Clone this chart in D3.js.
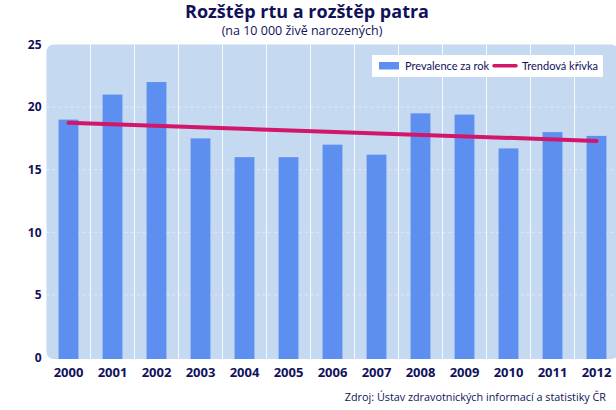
<!DOCTYPE html>
<html>
<head>
<meta charset="utf-8">
<script src="https://cdn.jsdelivr.net/npm/d3@7"></script>
<style>
  body { margin: 0; background: #fff; }
  svg { display: block; font-family: "Open Sans", "Noto Sans", sans-serif; }
</style>
</head>
<body>
<svg id="chart" width="616" height="410"></svg>
<script>
// data
const years = ["2000", "2001", "2002", "2003", "2004", "2005", "2006",
  "2007", "2008", "2009", "2010", "2011", "2012"];
const prevalence = [19.0, 21.0, 22.0, 17.5, 16.0, 16.0, 17.0,
  16.2, 19.5, 19.4, 16.7, 18.0, 17.7];
const trendYears = ["2000", "2012"];
const trendValues = [18.75, 17.3];
const yTicks = [0, 5, 10, 15, 20, 25];

const navy = "#11115a";
const barColor = "#5c8ff0";
const lineColor = "#d2166a";

const svg = d3.select("#chart");
const margin = { top: 44.5, left: 46.5, bottom: 52.5 };
const height = 410 - margin.top - margin.bottom;
const width = 13 * 44;

const x = d3.scaleBand().domain(years).range([0, width]).paddingInner(0.55).paddingOuter(0.275);
const band = d3.scaleBand().domain(years).range([0, width]);
const y = d3.scaleLinear().domain([0, 25]).range([height, 0]);

const g = svg.append("g").attr("transform", `translate(${margin.left},${margin.top})`);

// plot background
g.append("rect")
  .attr("x", 0).attr("y", 0)
  .attr("width", width).attr("height", height + 1.5)
  .attr("rx", 7)
  .attr("fill", "#c5d9f1");

// vertical separators between years
g.append("g")
  .selectAll("line")
  .data(years.slice(1))
  .join("line")
  .attr("x1", (d) => band(d)).attr("x2", (d) => band(d))
  .attr("y1", 0).attr("y2", height + 1.5)
  .attr("stroke", "#fff")
  .attr("stroke-opacity", 0.85)
  .attr("stroke-width", 1);

// horizontal dashed grid
g.append("g")
  .selectAll("line")
  .data(yTicks.filter((t) => t > 0 && t < 25))
  .join("line")
  .attr("x1", 0).attr("x2", width)
  .attr("y1", (d) => y(d)).attr("y2", (d) => y(d))
  .attr("stroke", "#fff")
  .attr("stroke-opacity", 0.45)
  .attr("stroke-dasharray", "3,3");

// bars
g.append("g")
  .selectAll("rect")
  .data(prevalence)
  .join("rect")
  .attr("x", (d, i) => x(years[i]))
  .attr("y", (d) => y(d))
  .attr("width", x.bandwidth())
  .attr("height", (d) => height + 1.5 - y(d))
  .attr("fill", barColor);

// trend line
const trend = trendYears.map((yr, i) => ({ year: yr, value: trendValues[i] }));
g.append("path")
  .datum(trend)
  .attr("fill", "none")
  .attr("stroke", lineColor)
  .attr("stroke-width", 4)
  .attr("stroke-linecap", "round")
  .attr("d", d3.line()
    .x((d) => band(d.year) + band.bandwidth() / 2)
    .y((d) => y(d.value)));

// y axis
const yAxis = g.append("g")
  .attr("transform", "translate(-5,0)")
  .call(d3.axisLeft(y).tickValues(yTicks).tickSize(0).tickPadding(0));
yAxis.select(".domain").remove();
yAxis.selectAll("text")
  .attr("fill", navy)
  .attr("font-size", 12)
  .attr("font-weight", 700)
  .attr("font-family", "Open Sans, sans-serif");

// x axis
const xAxis = g.append("g")
  .attr("transform", `translate(0,${height})`)
  .call(d3.axisBottom(band).tickSize(0).tickPadding(10));
xAxis.select(".domain").remove();
xAxis.selectAll("text")
  .attr("fill", navy)
  .attr("font-size", 13)
  .attr("font-weight", 700)
  .attr("font-family", "Open Sans, sans-serif");

// legend
const legend = svg.append("g").attr("transform", "translate(372,55)");
legend.append("rect")
  .attr("width", 231).attr("height", 22)
  .attr("fill", "#fff");
legend.append("rect")
  .attr("x", 7).attr("y", 7).attr("width", 20).attr("height", 7.5)
  .attr("fill", barColor);
legend.append("text")
  .attr("x", 33).attr("y", 14.5)
  .attr("font-size", 11)
  .attr("font-family", "Lato, sans-serif")
  .attr("fill", navy)
  .text("Prevalence za rok");
legend.append("line")
  .attr("x1", 122).attr("x2", 144)
  .attr("y1", 10.8).attr("y2", 10.8)
  .attr("stroke", lineColor)
  .attr("stroke-width", 3.5)
  .attr("stroke-linecap", "round");
legend.append("text")
  .attr("x", 150).attr("y", 14.5)
  .attr("font-size", 11)
  .attr("font-family", "Lato, sans-serif")
  .attr("fill", navy)
  .text("Trendová křivka");

// titles
svg.append("text")
  .attr("x", 307).attr("y", 18)
  .attr("text-anchor", "middle")
  .attr("font-size", 18)
  .attr("font-weight", 700)
  .attr("fill", navy)
  .text("Rozštěp rtu a rozštěp patra");
svg.append("text")
  .attr("x", 302).attr("y", 35)
  .attr("text-anchor", "middle")
  .attr("font-size", 12.5)
  .attr("fill", navy)
  .text("(na 10 000 živě narozených)");

// source
svg.append("text")
  .attr("x", 606).attr("y", 401)
  .attr("text-anchor", "end")
  .attr("font-size", 10.8)
  .attr("fill", navy)
  .text("Zdroj: Ústav zdravotnických informací a statistiky ČR");
</script>
</body>
</html>
